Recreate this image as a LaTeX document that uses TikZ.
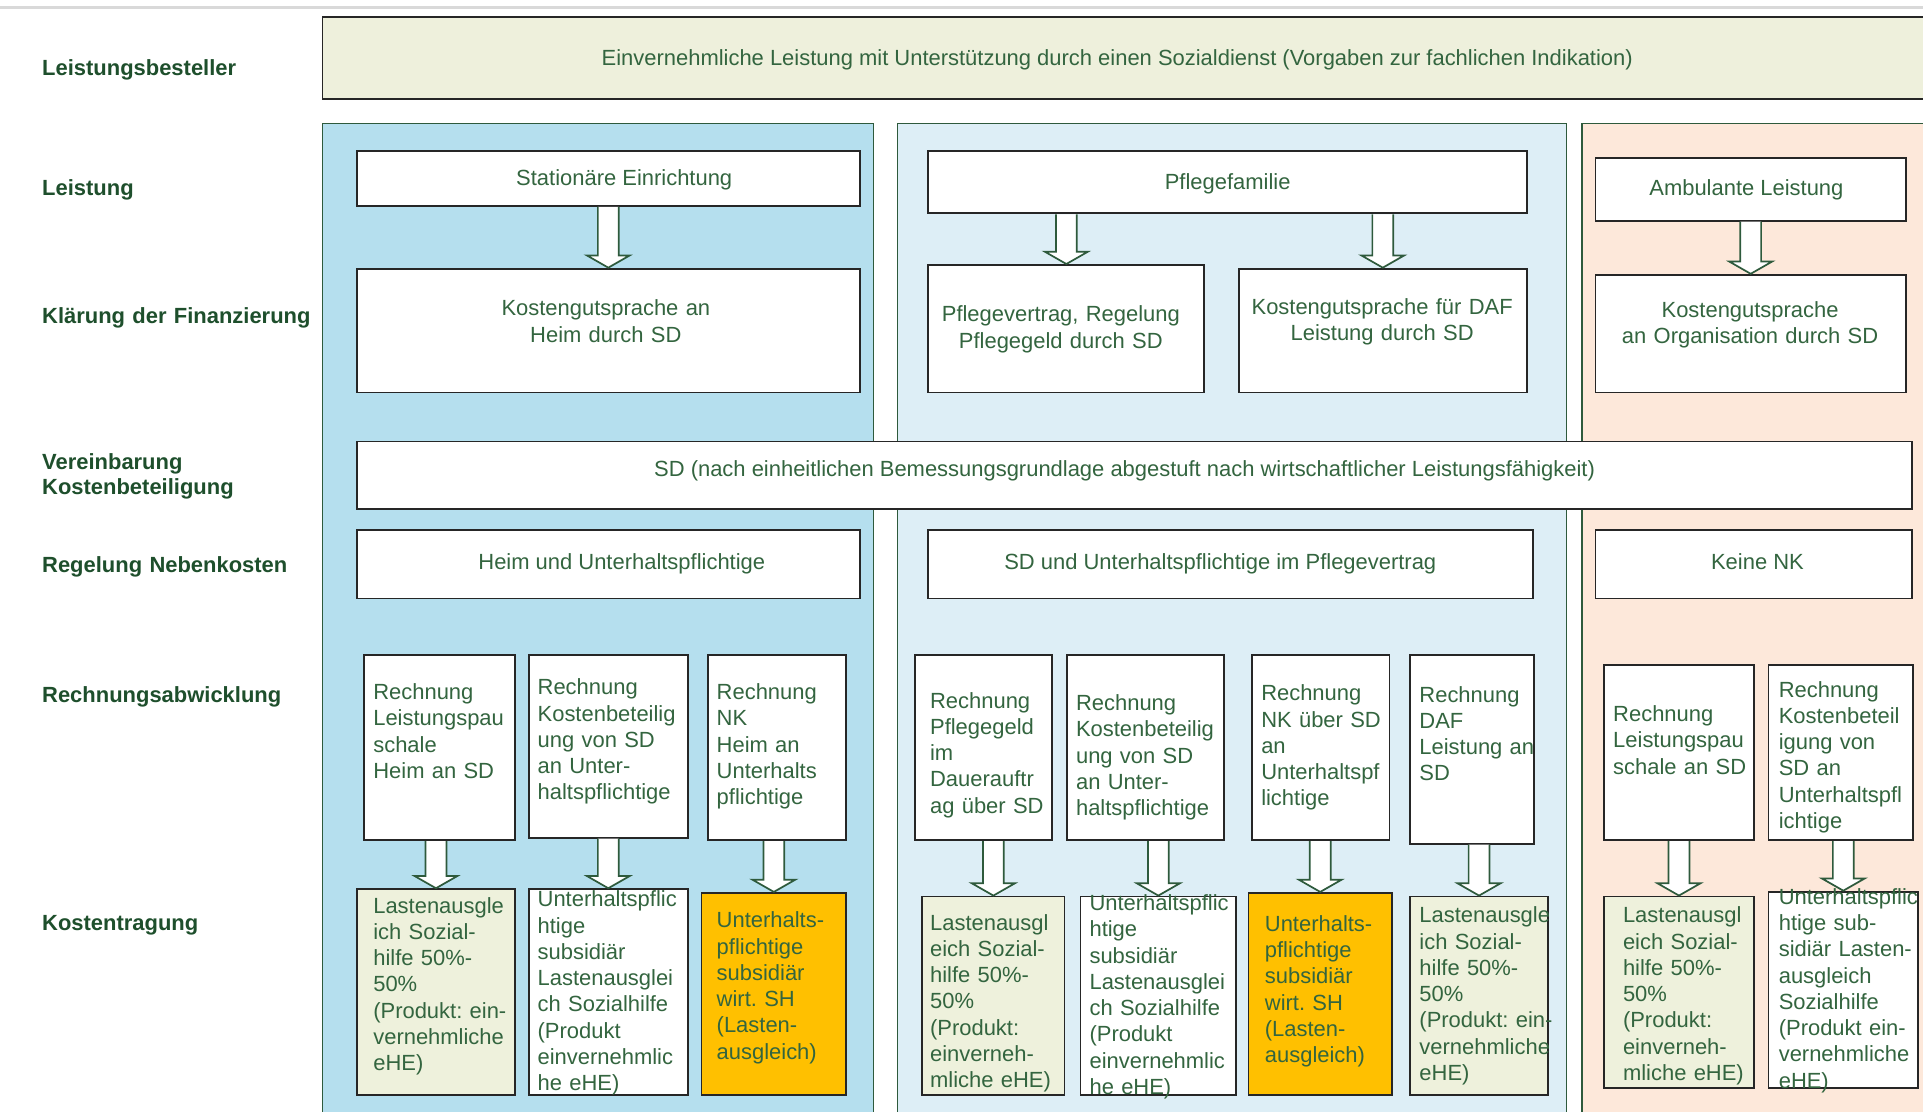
\documentclass[tikz,border=0pt]{standalone}
\usepackage{fontspec}
\setmainfont{Liberation Sans}
\usetikzlibrary{fit,calc}
\frenchspacing
\definecolor{txtg}{HTML}{33653F}
\definecolor{lblg}{HTML}{1E4F2C}
\definecolor{bordg}{HTML}{2E5A3C}
\definecolor{bannerf}{HTML}{EEF0DC}
\definecolor{olivef}{HTML}{EEF1DC}
\definecolor{goldf}{HTML}{FFC000}
\definecolor{pblue}{HTML}{B5DFEE}
\definecolor{plight}{HTML}{DDEEF6}
\definecolor{ppeach}{HTML}{FDE8DA}
\definecolor{grayline}{HTML}{D9D9D9}
\tikzset{
 box/.style={draw=black!85, line width=0.75pt, fill=white, inner sep=0pt},
 panel/.style={draw=bordg, line width=0.5pt, inner sep=0pt},
 txt/.style={font=\frenchspacing\fontsize{8.95}{10.7}\selectfont, text=txtg, inner sep=0pt},
 ltxt/.style={txt, text width=80pt, align=left, anchor=base west},
 ctxt/.style={txt, text width=160pt, align=center, anchor=base},
 conetxt/.style={txt, anchor=base},
 lbl/.style={font=\bfseries\fontsize{8.95}{10.5}\selectfont, text=lblg, inner sep=0pt, text width=120pt, align=left, anchor=base west},
 barrow/.style={draw=bordg, fill=white, line width=0.7pt, line join=miter}
}
\newcommand\flowarrow[2]{%
 \path[barrow] let \p1=(#1.south), \p2=(#2.north) in
 ({\x2-4.25pt},\y1) -- ({\x2-4.25pt},{\y2+5pt}) -- ({\x2-8.75pt},{\y2+5pt}) -- (\x2,\y2)
 -- ({\x2+8.75pt},{\y2+5pt}) -- ({\x2+4.25pt},{\y2+5pt}) -- ({\x2+4.25pt},\y1);}
\begin{document}
\begin{tikzpicture}[x=0.5pt,y=-0.5pt]
\useasboundingbox (0,0) rectangle (1568,906);
\clip (0,0) rectangle (1568,906);
\fill[white] (0,0) rectangle (1568,906);
\draw[grayline, line width=1.3pt] (0,6) -- (1568,6);

% labels
\node[lbl] (l1) at (34,61.5) {Leistungsbesteller};
\node[lbl] (l2) at (34,159.5) {Leistung};
\node[lbl] (l3) at (34,263.5) {Klärung der Finanzierung};
\node[lbl] (l4) at (34,382.5) {Vereinbarung\\Kostenbeteiligung};
\node[lbl] (l5) at (34,466.5) {Regelung Nebenkosten};
\node[lbl] (l6) at (34,572.5) {Rechnungsabwicklung};
\node[lbl] (l7) at (34,758.5) {Kostentragung};

% banner
\node[box, fill=bannerf, fit={(263,14)(1590,81)}] (banner) {};
\node[conetxt] (bannert) at (911,53.5) {Einvernehmliche Leistung mit Unterstützung durch einen Sozialdienst (Vorgaben zur fachlichen Indikation)};

% panels
\node[panel, fill=pblue, fit={(263,101)(712,930)}] (p1) {};
\node[panel, fill=plight, fit={(732,101)(1277,930)}] (p2) {};
\node[panel, fill=ppeach, fit={(1290,101)(1600,930)}] (p3) {};

% Leistung
\node[box, fit={(291,123)(701,168)}] (se) {};
\node[conetxt] (set) at (509,151.5) {Stationäre Einrichtung};
\node[box, fit={(757,123)(1245,174)}] (pf) {};
\node[conetxt] (pft) at (1001,154.5) {Pflegefamilie};
\node[box, fit={(1301,129)(1554,180)}] (al) {};
\node[conetxt] (alt) at (1424,159.5) {Ambulante Leistung};

% Finanzierung
\node[box, fit={(291,219)(701,320)}] (kh) {};
\node[ctxt] (kht) at (494,257.5) {Kostengutsprache an\\Heim durch SD};
\node[box, fit={(757,216)(982,320)}] (pv) {};
\node[ctxt] (pvt) at (865,262.5) {Pflegevertrag, Regelung\\Pflegegeld durch SD};
\node[box, fit={(1010,219)(1245,320)}] (kd) {};
\node[ctxt] (kdt) at (1127,256.5) {Kostengutsprache für DAF\\Leistung durch SD};
\node[box, fit={(1301,224)(1554,320)}] (ko) {};
\node[ctxt] (kot) at (1427,258.5) {Kostengutsprache\\an Organisation durch SD};

% Kostenbeteiligung
\node[box, fit={(291,360)(1559,415)}] (sd) {};
\node[conetxt] (sdt) at (917,388.5) {SD (nach einheitlichen Bemessungsgrundlage abgestuft nach wirtschaftlicher Leistungsfähigkeit)};

% Nebenkosten
\node[box, fit={(291,432)(701,488)}] (n1) {};
\node[conetxt] (n1t) at (507,464.5) {Heim und Unterhaltspflichtige};
\node[box, fit={(757,432)(1250,488)}] (n2) {};
\node[conetxt] (n2t) at (995,464.5) {SD und Unterhaltspflichtige im Pflegevertrag};
\node[box, fit={(1301,432)(1559,488)}] (n3) {};
\node[conetxt] (n3t) at (1433,464.5) {Keine NK};

% Rechnungsabwicklung
\node[box, fit={(297,534)(420,685)}] (r1) {};
\node[box, fit={(431,534)(561,683)}] (r2) {};
\node[box, fit={(577,534)(690,685)}] (r3) {};
\node[box, fit={(746,534)(858,685)}] (r4) {};
\node[box, fit={(870,534)(998,685)}] (r5) {};
\node[box, fit={(1021,534)(1133,685)}] (r6) {};
\node[box, fit={(1150,534)(1251,688)}] (r7) {};
\node[box, fit={(1308,542)(1430,685)}] (r8) {};
\node[box, fit={(1442,542)(1560,685)}] (r9) {};
\node[ltxt] (r1t) at (304,570.5) {Rechnung\\Leistungspau\\schale\\Heim an SD};
\node[ltxt] (r2t) at (438,566.5) {Rechnung\\Kostenbeteilig\\ung von SD\\an Unter-\\haltspflichtige};
\node[ltxt] (r3t) at (584,570.5) {Rechnung\\NK\\Heim an\\Unterhalts\\pflichtige};
\node[ltxt] (r4t) at (758,577.5) {Rechnung\\Pflegegeld\\im\\Dauerauftr\\ag über SD};
\node[ltxt] (r5t) at (877,579.5) {Rechnung\\Kostenbeteilig\\ung von SD\\an Unter-\\haltspflichtige};
\node[ltxt] (r6t) at (1028,571.5) {Rechnung\\NK über SD\\an\\Unterhaltspf\\lichtige};
\node[ltxt] (r7t) at (1157,572.5) {Rechnung\\DAF\\Leistung an\\SD};
\node[ltxt] (r8t) at (1315,588.5) {Rechnung\\Leistungspau\\schale an SD};
\node[ltxt] (r9t) at (1450,568.5) {Rechnung\\Kostenbeteil\\igung von\\SD an\\Unterhaltspfl\\ichtige};

% Kostentragung
\node[box, fill=olivef, fit={(291,725)(420,893)}] (k1) {};
\node[box, fit={(431,725)(561,893)}] (k2) {};
\node[box, fill=goldf, fit={(572,728)(690,893)}] (k3) {};
\node[box, fill=olivef, fit={(752,731)(868,893)}] (k4) {};
\node[box, fit={(881,731)(1008,893)}] (k5) {};
\node[box, fill=goldf, fit={(1018,728)(1135,893)}] (k6) {};
\node[box, fill=olivef, fit={(1150,731)(1262,893)}] (k7) {};
\node[box, fill=olivef, fit={(1308,731)(1430,887)}] (k8) {};
\node[box, fit={(1442,727)(1564,887)}] (k9) {};
\node[ltxt] (k1t) at (304,744.5) {Lastenausgle\\ich Sozial-\\hilfe 50\%-\\50\%\\(Produkt: ein-\\vernehmliche\\eHE)};
\node[ltxt] (k2t) at (438,739.5) {Unterhaltspflic\\htige\\subsidiär\\Lastenausglei\\ch Sozialhilfe\\(Produkt\\einvernehmlic\\he eHE)};
\node[ltxt] (k3t) at (584,756.5) {Unterhalts-\\pflichtige\\subsidiär\\wirt. SH\\(Lasten-\\ausgleich)};
\node[ltxt] (k4t) at (758,758.5) {Lastenausgl\\eich Sozial-\\hilfe 50\%-\\50\%\\(Produkt:\\einverneh-\\mliche eHE)};
\node[ltxt] (k5t) at (888,742.5) {Unterhaltspflic\\htige\\subsidiär\\Lastenausglei\\ch Sozialhilfe\\(Produkt\\einvernehmlic\\he eHE)};
\node[ltxt] (k6t) at (1031,759.5) {Unterhalts-\\pflichtige\\subsidiär\\wirt. SH\\(Lasten-\\ausgleich)};
\node[ltxt] (k7t) at (1157,752.5) {Lastenausgle\\ich Sozial-\\hilfe 50\%-\\50\%\\(Produkt: ein-\\vernehmliche\\eHE)};
\node[ltxt] (k8t) at (1323,752.5) {Lastenausgl\\eich Sozial-\\hilfe 50\%-\\50\%\\(Produkt:\\einverneh-\\mliche eHE)};
\node[ltxt] (k9t) at (1450,737.5) {Unterhaltspflic\\htige sub-\\sidiär Lasten-\\ausgleich\\Sozialhilfe\\(Produkt ein-\\vernehmliche\\eHE)};

% arrows
\flowarrow{se}{kh}
\flowarrow{pf}{pv}
\flowarrow{pf}{kd}
\flowarrow{al}{ko}
\flowarrow{r1}{k1}
\flowarrow{r2}{k2}
\flowarrow{r3}{k3}
\flowarrow{r4}{k4}
\flowarrow{r5}{k5}
\flowarrow{r6}{k6}
\flowarrow{r7}{k7}
\flowarrow{r8}{k8}
\flowarrow{r9}{k9}
\end{tikzpicture}
\end{document}
